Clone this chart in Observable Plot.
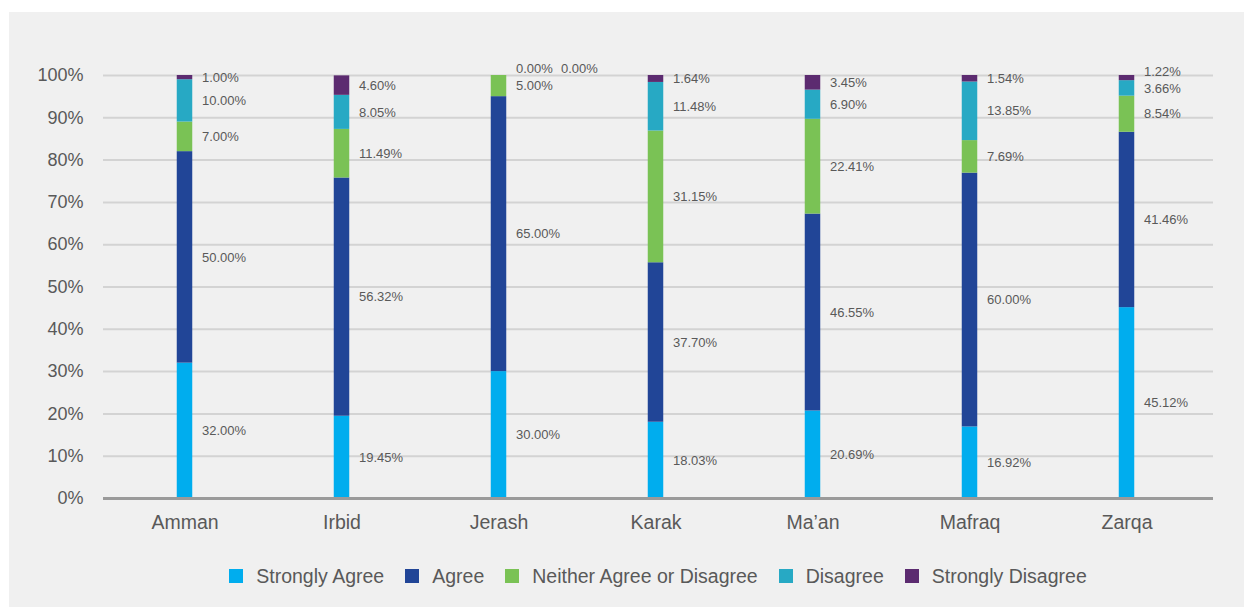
<!DOCTYPE html>
<html>
<head>
<meta charset="utf-8">
<script src="https://cdn.jsdelivr.net/npm/d3@7"></script>
<script src="https://cdn.jsdelivr.net/npm/@observablehq/plot@0.6"></script>
<style>
  html, body { margin: 0; padding: 0; background: #ffffff; }
  #panel {
    position: absolute; left: 9px; top: 12px; width: 1235px; height: 595px;
    background: #f0f0f0; font-family: "Liberation Sans", Arial, sans-serif;
  }
  #chart { position: absolute; left: 0; top: 0; }
  #legend {
    position: absolute; left: 94px; width: 1110px; top: 553px; height: 22px;
    display: flex; justify-content: center; align-items: center;
    font-size: 19.5px; color: #595959; line-height: 22px;
  }
  .item { display: flex; align-items: center; margin: 0 10.5px; }
  .sw { width: 14px; height: 14px; margin-right: 13px; }
</style>
</head>
<body>
<div id="panel">
  <div id="chart"></div>
  <div id="legend"></div>
</div>
<script>
const categories = ["Amman", "Irbid", "Jerash", "Karak", "Ma\u2019an", "Mafraq", "Zarqa"];
const seriesNames = ["Strongly Agree", "Agree", "Neither Agree or Disagree", "Disagree", "Strongly Disagree"];
const seriesColors = ["#00adee", "#214597", "#7ac255", "#27a9c4", "#5c2b70"];
const stronglyAgree    = [32.00, 19.45, 30.00, 18.03, 20.69, 16.92, 45.12];
const agree            = [50.00, 56.32, 65.00, 37.70, 46.55, 60.00, 41.46];
const neither          = [7.00, 11.49, 5.00, 31.15, 22.41, 7.69, 8.54];
const disagree         = [10.00, 8.05, 0.00, 11.48, 6.90, 13.85, 3.66];
const stronglyDisagree = [1.00, 4.60, 0.00, 1.64, 3.45, 1.54, 1.22];
const yTicks = [0, 10, 20, 30, 40, 50, 60, 70, 80, 90, 100];

const seriesValues = [stronglyAgree, agree, neither, disagree, stronglyDisagree];

const rows = [];
seriesNames.forEach((s, si) => categories.forEach((c, ci) =>
  rows.push({category: c, series: s, value: seriesValues[si][ci]})));

// label positions: segment midpoints with simple collision avoidance
const labels = [];
categories.forEach((c, ci) => {
  let cum = 0;
  let prev = null;
  seriesNames.forEach((s, si) => {
    const v = seriesValues[si][ci];
    let mid = cum + v / 2;
    cum += v;
    let col = 0;
    if (prev) {
      if (v === 0 && prev.value === 0) { mid = prev.mid; col = 1; }
      else if (mid - prev.mid < 4) mid = prev.mid + 4;
    }
    const lab = {category: c, series: s, value: v, mid, col};
    labels.push(lab);
    prev = lab;
  });
});

const W = 1235;
const plot = Plot.plot({
  width: W, height: 530,
  marginLeft: 94, marginRight: 31, marginTop: 63, marginBottom: 44,
  style: {background: "transparent", fontFamily: "'Liberation Sans', Arial, sans-serif", overflow: "visible"},
  x: {type: "band", domain: categories, range: [95.25, 1197.75], padding: 0, label: null},
  y: {domain: [0, 100], label: null},
  color: {domain: seriesNames, range: seriesColors},
  marks: [
    Plot.ruleY(yTicks.filter(d => d > 0), {stroke: "#d3d3d3", strokeWidth: 2}),
    Plot.barY(rows, {x: "category", y: "value", fill: "series", insetLeft: 70.75, insetRight: 70.75}),
    Plot.ruleY([0], {stroke: "#9a9a9a", strokeWidth: 3}),
    Plot.axisY({ticks: yTicks, tickFormat: d => d + "%", tickSize: 0, tickPadding: 20, fontSize: 18, fill: "#595959", label: null}),
    Plot.axisX({tickSize: 0, tickPadding: 17, fontSize: 19.5, fill: "#595959", label: null}),
    Plot.text(labels.filter(d => d.col === 0), {x: "category", y: "mid", text: d => d.value.toFixed(2) + "%", dx: 17, textAnchor: "start", fill: "#595959", fontSize: 13}),
    Plot.text(labels.filter(d => d.col === 1), {x: "category", y: "mid", text: d => d.value.toFixed(2) + "%", dx: 62, textAnchor: "start", fill: "#595959", fontSize: 13})
  ]
});
document.getElementById("chart").appendChild(plot);

const legend = document.getElementById("legend");
seriesNames.forEach((s, i) => {
  const item = document.createElement("div");
  item.className = "item";
  const sw = document.createElement("div");
  sw.className = "sw";
  sw.style.background = seriesColors[i];
  const t = document.createElement("span");
  t.textContent = s;
  item.appendChild(sw); item.appendChild(t);
  legend.appendChild(item);
});
</script>
</body>
</html>
